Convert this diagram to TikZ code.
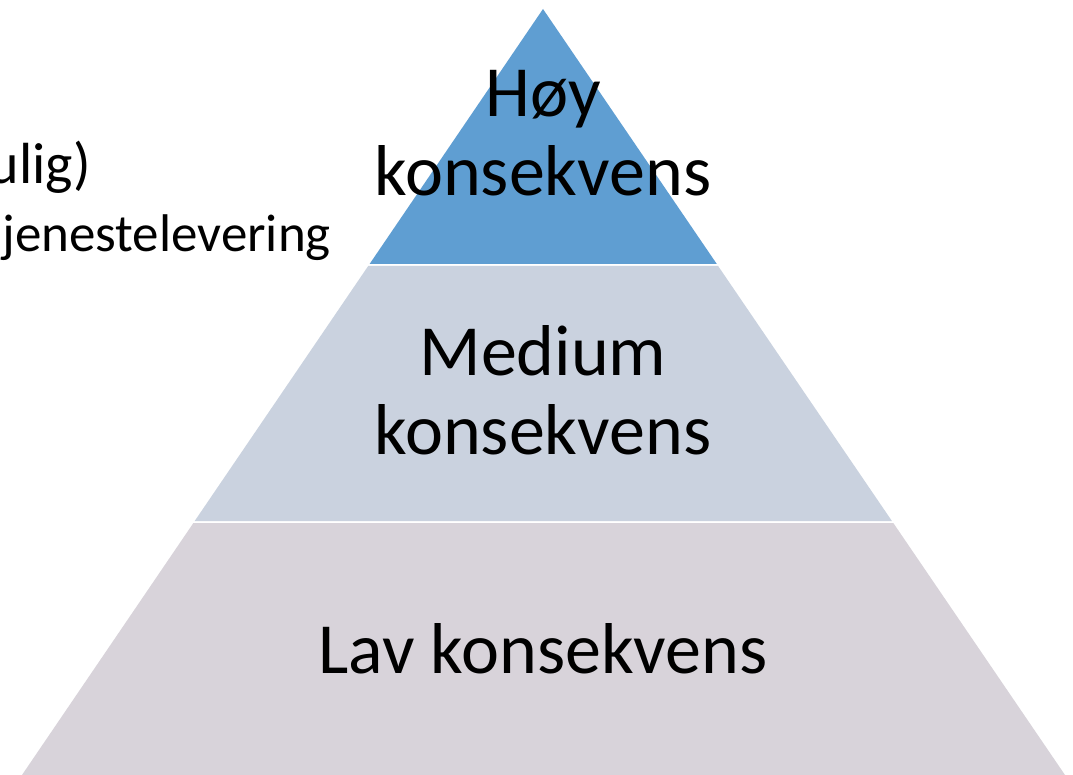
\documentclass[tikz,border=0pt]{standalone}
\usepackage{fontspec}
\setmainfont{Carlito}
\definecolor{topblue}{HTML}{5F9ED2}
\definecolor{midgray}{HTML}{CAD2DF}
\definecolor{lowgray}{HTML}{D8D3DA}
\begin{document}
\begin{tikzpicture}[x=1pt,y=-1pt,
  layer/.style={draw=none},
  bigtext/.style={font=\fontsize{72}{79}\selectfont, align=center, inner sep=0pt, anchor=base, text=black},
  sidetext/.style={inner sep=0pt, anchor=base east, text=black}]
  \useasboundingbox (0,0) rectangle (1073,775);
  \fill[white] (0,0) rectangle (1073,775);
  % layers
  \fill[layer, topblue] (543,9) -- (716.8,264) -- (369.6,264) -- cycle;
  \fill[layer, midgray] (368.2,266) -- (718.1,266) -- (891.9,521) -- (194.7,521) -- cycle;
  \fill[layer, lowgray] (193.4,523) -- (893.3,523) -- (1065,775) -- (22,775) -- cycle;
  % labels (base anchor = baseline of last line)
  \node[bigtext] (hoy) at (543,196) {Høy\\konsekvens};
  \node[bigtext] (medium) at (543,454) {Medium\\konsekvens};
  \node[bigtext] (lav) at (543,673) {Lav konsekvens};
  % cut-off side text
  \node[sidetext, font=\fontsize{58}{64}\selectfont] (ulig) at (91,184) {ulig)};
  \node[sidetext, font=\fontsize{53}{58}\selectfont] (tjeneste) at (331,252) {jenestelevering};
\end{tikzpicture}
\end{document}
